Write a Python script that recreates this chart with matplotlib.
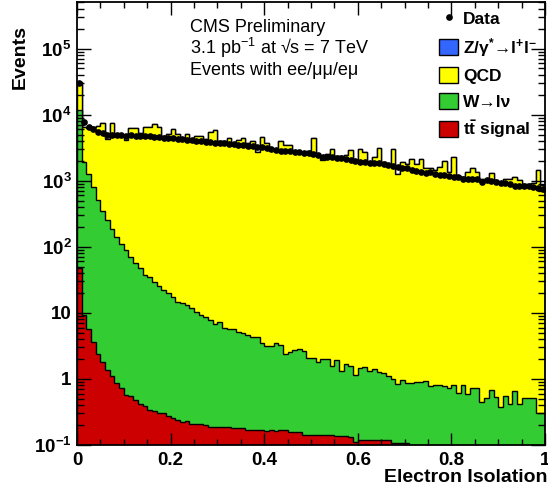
import numpy as np
import matplotlib.pyplot as plt
from matplotlib.lines import Line2D
from matplotlib.patches import Patch
from matplotlib.ticker import LogLocator, MultipleLocator, NullFormatter

plt.rcParams['font.family'] = 'Liberation Sans'
plt.rcParams['mathtext.fontset'] = 'custom'
plt.rcParams['mathtext.rm'] = 'Liberation Sans'
plt.rcParams['mathtext.it'] = 'Liberation Sans:italic'
plt.rcParams['mathtext.bf'] = 'Liberation Sans:bold'

# 100 bins of electron isolation between 0 and 1
edges = np.linspace(0.0, 1.0, 101)

ttbar = [
    47, 9.2, 5.6, 3.6, 2.4, 1.8, 1.36, 1.1, 0.86, 0.72,
    0.57, 0.55, 0.48, 0.42, 0.39, 0.34, 0.33, 0.30, 0.31, 0.27,
    0.26, 0.24, 0.22, 0.23, 0.21, 0.21, 0.21, 0.20, 0.19, 0.19,
    0.19, 0.19, 0.19, 0.18, 0.18, 0.18, 0.17, 0.17, 0.17, 0.17,
    0.165, 0.17, 0.165, 0.17, 0.17, 0.16, 0.16, 0.16, 0.14, 0.14,
    0.14, 0.14, 0.14, 0.14, 0.14, 0.135, 0.135, 0.135, 0.13, 0.11,
    0.12, 0.12, 0.12, 0.12, 0.12, 0.12, 0.12, 0.108, 0.108, 0.108,
    0.108, 0, 0, 0, 0, 0, 0, 0, 0, 0,
    0, 0, 0, 0, 0, 0, 0, 0, 0, 0,
    0, 0, 0, 0, 0, 0, 0, 0, 0, 0,
]

wjets = [
    11850, 1896, 1264, 794, 500, 344, 249, 187, 139, 110,
    89.4, 69.5, 56.5, 46.6, 37.6, 34.7, 28.7, 25.2, 21.7, 19.7,
    17.1, 14.4, 13.9, 12.8, 11.8, 10.1, 9.0, 8.5, 7.7, 6.5,
    7.0, 5.8, 5.46, 5.42, 4.97, 4.8, 4.42, 4.08, 4.07, 3.28,
    2.97, 2.96, 3.29, 3.08, 2.20, 2.43, 2.57, 2.65, 2.49, 1.91,
    1.90, 1.68, 1.84, 1.84, 1.44, 1.79, 1.20, 1.55, 1.46, 1.05,
    1.33, 1.40, 1.20, 1.28, 1.16, 1.10, 0.99, 0.89, 0.725, 0.84,
    0.77, 0.86, 0.90, 0.90, 0.93, 0.78, 0.81, 0.80, 0.78, 0.74,
    0.81, 0.62, 0.81, 0.59, 0.74, 0.72, 0.44, 0.51, 0.68, 0.53,
    0.37, 0.55, 0.42, 0.66, 0.42, 0.51, 0.52, 0.52, 0.31, 0.30,
]

qcd = [
    17500, 4525, 5080, 5630, 6320, 7050, 4050, 7310, 4960, 4890,
    4060, 6280, 6290, 5240, 6510, 6515, 7220, 6405, 4800, 5080,
    6060, 5085, 4436, 5087, 4038, 4710, 4711, 4291, 5402, 5863,
    4043, 3954, 4444, 3744, 4190, 4390, 3690, 4050, 2700, 4600,
    3750, 3030, 2860, 3960, 3490, 3420, 2700, 2700, 2600, 2860,
    4390, 2550, 2070, 2550, 3030, 2400, 2400, 2460, 2950, 2020,
    3030, 2700, 1900, 2270, 3100, 1900, 1750, 3030, 1270, 1900,
    1760, 2140, 1800, 2140, 1570, 1570, 1470, 1620, 1960, 1340,
    2270, 1160, 1130, 1340, 1570, 1340, 1070, 1010, 1300, 1010,
    960, 1070, 1070, 1130, 1010, 900, 880, 920, 1470, 850,
]

zjets = [2300] + [0] * 99

data = [
    30500, 7660, 6430, 6080, 5500, 5220, 5000, 4950, 4900, 4900,
    4800, 4950, 4720, 4680, 4680, 4680, 4640, 4600, 4450, 4380,
    4380, 4300, 4300, 4190, 4150, 4050, 4000, 3900, 3850, 3750,
    3750, 3690, 3650, 3600, 3490, 3450, 3330, 3300, 3220, 3220,
    3100, 3000, 2950, 2860, 2800, 2800, 2700, 2680, 2650, 2600,
    2550, 2480, 2270, 2320, 2270, 2220, 2220, 2140, 2070, 1960,
    1940, 1900, 1870, 1850, 1830, 1800, 1700, 1650, 1620, 1570,
    1570, 1470, 1380, 1340, 1300, 1340, 1270, 1240, 1220, 1190,
    1150, 1130, 1080, 1080, 1070, 1070, 960, 1010, 990, 960,
    930, 930, 880, 830, 820, 820, 820, 800, 780, 740,
]

samples = ['tt_signal', 'wjets', 'qcd', 'zjets']
labels = {
    'zjets': r'Z/γ$^{\mathbf{*}}$→l$^{\mathbf{+}}$l$^{\mathbf{-}}$',
    'qcd': 'QCD',
    'wjets': 'W→lν',
    'tt_signal': r'$\mathbf{t\bar{t}}$ signal',
}
colors = {
    'zjets': '#3366ff',
    'qcd': '#ffff00',
    'wjets': '#33cc33',
    'tt_signal': '#cc0000',
}
hists = {'tt_signal': ttbar, 'wjets': wjets, 'qcd': qcd, 'zjets': zjets}

fig = plt.figure(figsize=(5.48, 4.97), dpi=100)
ax = fig.add_axes([77 / 548, 52 / 497, 468 / 548, 443 / 497])

# stack: cumulative sums, drawn from the top layer down
stack = np.cumsum([np.asarray(hists[s], dtype=float) for s in samples], axis=0)
for i in reversed(range(len(samples))):
    ax.stairs(stack[i], edges, baseline=1e-3, fill=True,
              facecolor=colors[samples[i]], edgecolor='black', linewidth=1.0)

centers = 0.5 * (edges[:-1] + edges[1:])
data = np.asarray(data, dtype=float)
ax.errorbar(centers, data, xerr=0.005, yerr=np.sqrt(data), fmt='o',
            color='black', ms=3.8, elinewidth=1.0, capsize=0)

ax.set_yscale('log')
ax.set_xlim(0, 1)
ax.set_ylim(0.1, 5.07e5)

ax.set_yticks([0.1, 1, 10, 1e2, 1e3, 1e4, 1e5],
              labels=[r'$\mathbf{10^{-1}}$', '1', '10', r'$\mathbf{10^{2}}$',
                      r'$\mathbf{10^{3}}$', r'$\mathbf{10^{4}}$', r'$\mathbf{10^{5}}$'])
ax.yaxis.set_minor_locator(LogLocator(base=10, subs=np.arange(2, 10)))
ax.yaxis.set_minor_formatter(NullFormatter())
ax.set_xticks([0, 0.2, 0.4, 0.6, 0.8, 1.0],
              labels=['0', '0.2', '0.4', '0.6', '0.8', '1'])
ax.xaxis.set_minor_locator(MultipleLocator(0.05))

ax.tick_params(which='both', direction='in', top=True, right=True,
               width=1.0, labelsize=13.5)
ax.tick_params(axis='y', which='major', length=10, pad=4)
ax.tick_params(axis='y', which='minor', length=5)
ax.tick_params(axis='x', which='major', length=9, pad=5)
ax.tick_params(axis='x', which='minor', length=4.5)
for lab in ax.get_xticklabels() + ax.get_yticklabels():
    lab.set_fontweight('bold')
for sp in ax.spines.values():
    sp.set_linewidth(1.3)
ax.set_axisbelow(False)

fig.text(20 / 548, 1 - 25 / 497, 'Events', rotation=90, ha='center', va='top',
         fontsize=14, fontweight='bold')
fig.text(547 / 548, 1 - 478 / 497, 'Electron Isolation', ha='right',
         va='center', fontsize=14, fontweight='bold')

fig.text(190 / 548, 1 - 32 / 497, 'CMS Preliminary', fontsize=13, va='baseline')
fig.text(190 / 548, 1 - 54 / 497, r'3.1 pb$^{\mathrm{-1}}$ at √s = 7 TeV',
         fontsize=13, va='baseline')
fig.text(190 / 548, 1 - 75 / 497, 'Events with ee/μμ/eμ', fontsize=13,
         va='baseline')

handles = [Line2D([], [], marker='o', ls='none', color='black', ms=3.8)]
names = ['Data']
for s in ['zjets', 'qcd', 'wjets', 'tt_signal']:
    handles.append(Patch(facecolor=colors[s], edgecolor='black', linewidth=1.0))
    names.append(labels[s])
leg = ax.legend(handles, names, loc='upper left', frameon=False,
                bbox_to_anchor=(439 / 548, 1 - 10 / 497),
                bbox_transform=fig.transFigure, borderpad=0, borderaxespad=0,
                handlelength=1.1, handleheight=1.05, handletextpad=0.3,
                labelspacing=0.5, prop={'weight': 'bold', 'size': 12.5})

fig.savefig('out.png', dpi=100)
